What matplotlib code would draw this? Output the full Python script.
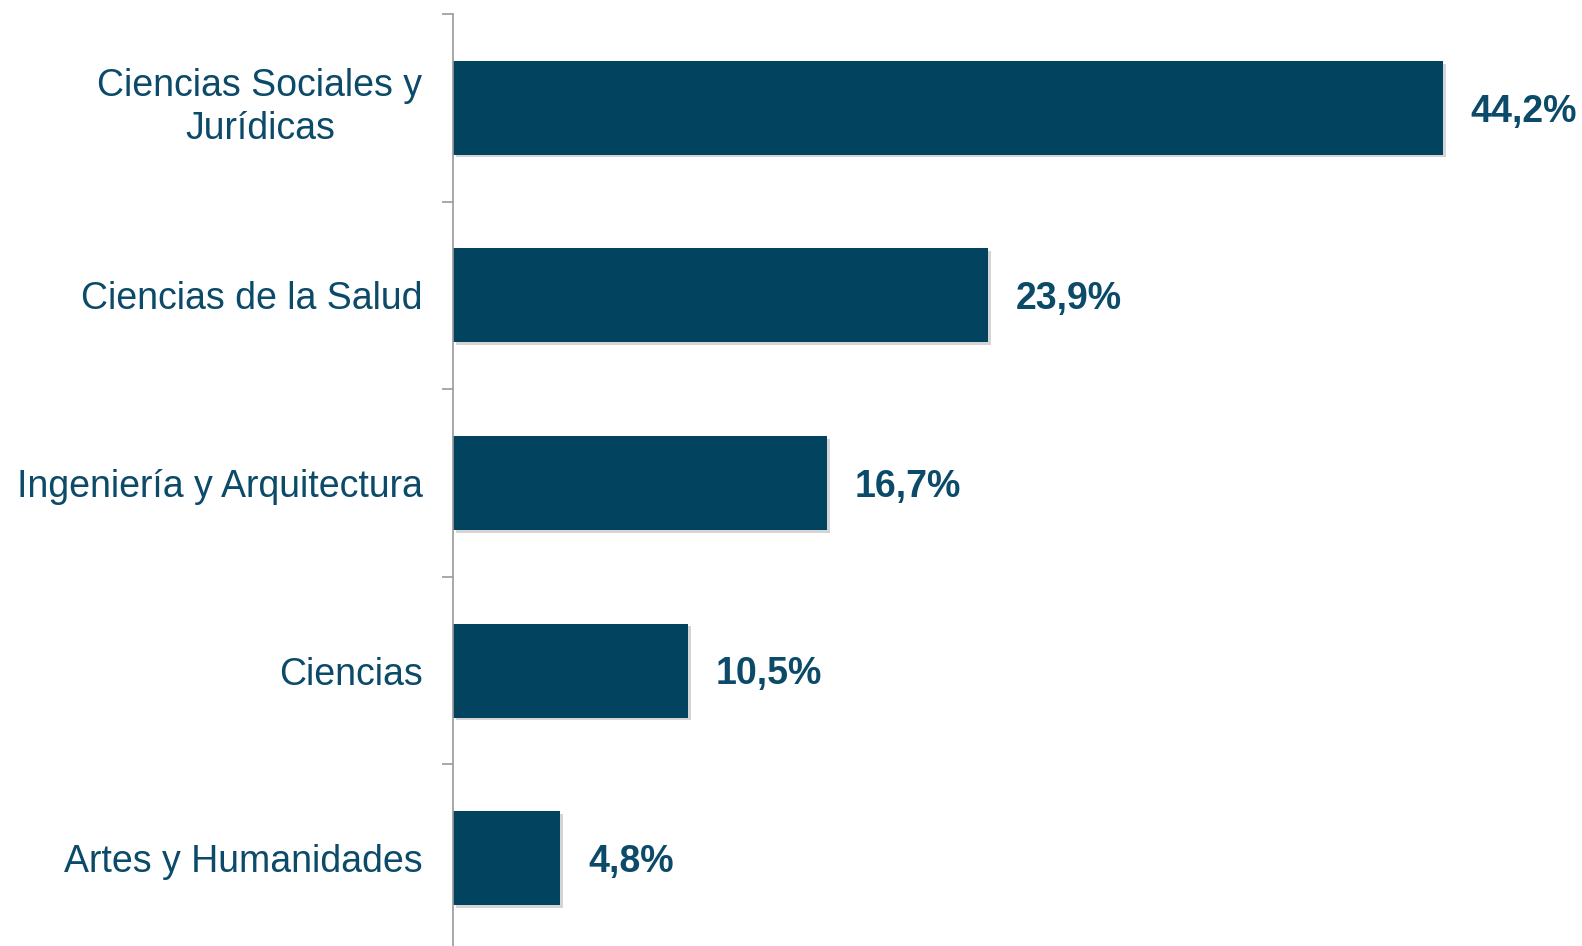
import matplotlib
matplotlib.use("Agg")
import matplotlib.pyplot as plt
import matplotlib.patheffects as pe

categorias = ["Ciencias Sociales y\nJurídicas", "Ciencias de la Salud",
              "Ingeniería y Arquitectura", "Ciencias", "Artes y Humanidades"]
valores = [44.2, 23.9, 16.7, 10.5, 4.8]
etiquetas = ["44,2%", "23,9%", "16,7%", "10,5%", "4,8%"]

color_barra = "#02445F"
color_texto = "#0B4A68"

plt.rcParams["font.family"] = ["Liberation Sans", "DejaVu Sans"]

W, H = 1582, 946
fig = plt.figure(figsize=(W / 100, H / 100), dpi=100)
x0, top, banda = 453, 14, 187.6
n = len(categorias)
alto = n * banda
ax = fig.add_axes([x0 / W, 1 - (top + alto) / H, 1 - x0 / W, alto / H])

pos = [n - 1 - i for i in range(n)]
bars = ax.barh(pos, valores, height=0.5, color=color_barra)
for b in bars:
    b.set_path_effects([pe.SimplePatchShadow(offset=(2, -2), shadow_rgbFace="#888888", alpha=0.35),
                        pe.Normal()])

for p, v, t in zip(pos, valores, etiquetas):
    ax.text(v + 1.25, p - 0.02, t, va="center", ha="left", fontsize=27,
            fontweight="bold", color=color_texto)

ax.set_xlim(0, 50.42)
ax.set_ylim(-0.5, n - 0.5)

# ticks at the category boundaries, labels at the centres
ax.set_yticks([i - 0.5 for i in range(n + 1)])
ax.set_yticklabels([])
ax.set_yticks(pos, minor=True)
ax.set_yticklabels(categorias, minor=True, fontsize=27, color=color_texto,
                   ha="right", multialignment="center", linespacing=1.24)
for lab in ax.get_yticklabels(minor=True):
    if "\n" in lab.get_text():
        lab.set_va("center")
ax.tick_params(axis="y", which="major", length=8, color="#999999", width=1.2)
ax.tick_params(axis="y", which="minor", length=0, pad=22)

ax.set_xticks([])
for s in ["top", "right", "bottom"]:
    ax.spines[s].set_visible(False)
ax.spines["left"].set_color("#999999")
ax.spines["left"].set_linewidth(1.2)

fig.savefig("out.png", dpi=100)
